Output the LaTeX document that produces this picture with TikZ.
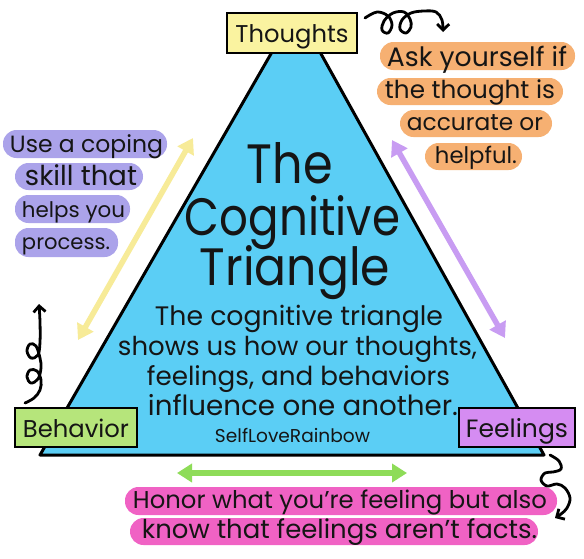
\documentclass[tikz,border=0pt]{standalone}
\usepackage{fontspec}
\setmainfont{Poppins}
\usepackage{graphicx}
\usetikzlibrary{arrows.meta}
\definecolor{triblue}{HTML}{5BCEF5}
\definecolor{thyellow}{HTML}{FAF3A0}
\definecolor{bhgreen}{HTML}{B6E57B}
\definecolor{fepurple}{HTML}{D58CF2}
\definecolor{orpill}{HTML}{F6B072}
\definecolor{lvpill}{HTML}{ABA3EA}
\definecolor{pkpill}{HTML}{F062C4}
\definecolor{yarrow}{HTML}{F7EB98}
\definecolor{parrow}{HTML}{C89CF2}
\definecolor{garrow}{HTML}{8EDC58}
\definecolor{ink}{HTML}{151515}
\newcommand{\fw}[2]{\resizebox{#1}{!}{#2}}
\newcommand{\fwh}[3]{\resizebox{#1}{#2}{#3}}
\begin{document}
\begin{tikzpicture}[x=1pt,y=-1pt,
  pill/.style={fill=#1, draw=none, rounded corners=13.5pt, inner sep=0pt},
  labelbox/.style={fill=#1, draw=black, line width=2pt, inner sep=0pt},
  txt/.style={anchor=base, inner sep=0pt, text=ink},
  dbl/.style={draw=#1, line width=5.5pt, {Triangle[length=15pt,width=18pt]}-{Triangle[length=15pt,width=18pt]}},
  curl/.style={draw=black, line width=2.8pt, line cap=round, line join=round, -{Straight Barb[length=6pt,width=12pt]}}
]
\useasboundingbox (0,0) rectangle (584,558);
\fill[white] (0,0) rectangle (584,558);

% triangle
\coordinate (tl) at (272,52);
\coordinate (tr) at (320,52);
\coordinate (br) at (544,455);
\coordinate (bl) at (40,455);
\filldraw[fill=triblue, draw=black, line width=3pt, line join=round] (tl) -- (tr) -- (br) -- (bl) -- cycle;

% double arrows
\coordinate (ya) at (78,340); \coordinate (yb) at (193,138);
\coordinate (pa) at (392,140); \coordinate (pb) at (505,338);
\coordinate (ga) at (177,473); \coordinate (gb) at (407,473);
\draw[dbl=yarrow] (ya) -- (yb);
\draw[dbl=parrow] (pa) -- (pb);
\draw[dbl=garrow] (ga) -- (gb);

% corner boxes
\node[labelbox=thyellow, minimum width=130pt, minimum height=40pt] (th) at (292,33) {};
\node[txt] (tht) at (292,42) {\fw{113pt}{Thoughts}};
\node[labelbox=bhgreen, minimum width=122pt, minimum height=39pt] (bh) at (76,427.5) {};
\node[txt] (bht) at (76,437) {\fw{106pt}{Behavior}};
\node[labelbox=fepurple, minimum width=116pt, minimum height=39pt] (fe) at (517,427.5) {};
\node[txt] (fet) at (517,437) {\fw{102pt}{Feelings}};

% title
\node[txt] (t1) at (290,183) {\fwh{86pt}{41pt}{The}};
\node[txt] (t2) at (292.5,235) {\fwh{215pt}{40pt}{Cognitive}};
\node[txt] (t3) at (295,285) {\fwh{190pt}{40pt}{Triangle}};

% body
\node[txt] (b1) at (299,325) {\fw{288pt}{The cognitive triangle}};
\node[txt] (b2) at (297.5,355) {\fw{359pt}{shows us how our thoughts,}};
\node[txt] (b3) at (298.5,385) {\fw{303pt}{feelings, and behaviors}};
\node[txt] (b4) at (303,415) {\fw{310pt}{influence one another.}};
\node[txt] (b5) at (292.5,442) {\fw{155pt}{SelfLoveRainbow}};

% orange pills
\node[pill=orpill, minimum width=195pt, minimum height=28pt] (o1) at (477.5,56) {};
\node[txt] at (477,66) {\fw{180pt}{Ask yourself if}};
\node[pill=orpill, minimum width=186pt, minimum height=27pt] (o2) at (470,91.5) {};
\node[txt] at (470,98) {\fw{170pt}{the thought is}};
\node[pill=orpill, minimum width=152pt, minimum height=27pt] (o3) at (476,123.5) {};
\node[txt] at (475,130) {\fw{136pt}{accurate or}};
\node[pill=orpill, minimum width=97pt, minimum height=27pt] (o4) at (473.5,156.5) {};
\node[txt] at (476,163) {\fw{82pt}{helpful.}};

% lavender pills
\node[pill=lvpill, minimum width=164pt, minimum height=28pt] (l1) at (85,144) {};
\node[txt] at (86.5,152) {\fw{153pt}{Use a coping}};
\node[pill=lvpill, minimum width=128pt, minimum height=27pt] (l2) at (79,176.5) {};
\node[txt] at (81,185) {\fw{112pt}{skill that}};
\node[pill=lvpill, minimum width=115pt, minimum height=28pt] (l3) at (72.5,209) {};
\node[txt] at (73.5,217) {\fw{103pt}{helps you}};
\node[pill=lvpill, minimum width=103pt, minimum height=29pt] (l4) at (66.5,242.5) {};
\node[txt] at (66,249) {\fw{88pt}{process.}};

% pink pills
\node[pill=pkpill, minimum width=432pt, minimum height=28pt] (k1) at (341,501) {};
\node[txt] at (340,508) {\fw{414pt}{Honor what you're feeling but also}};
\node[pill=pkpill, minimum width=408pt, minimum height=27pt] (k2) at (334,531.5) {};
\node[txt] at (339.5,538) {\fw{395pt}{know that feelings aren't facts.}};

% curly arrows
\draw[curl] plot[smooth, tension=0.6] coordinates {(365,18) (377,12) (388,16) (392,25) (388,33) (382,30) (384,21) (393,13) (404,12) (410,19) (411,27) (406,33) (400,29) (402,20) (411,13) (424,11) (436,12) (442,20) (443,32)};
\draw[curl] plot[smooth, tension=0.6] coordinates {(25,403) (34,398) (40,390) (41,380) (37,371) (30,370) (27,377) (31,383) (38,379) (41,368) (40,358) (36,346) (30,344) (27,351) (31,358) (38,355) (40,342) (40,322) (39,304)};
\draw[curl] plot[smooth, tension=0.6] coordinates {(550,455) (559,461) (561,469) (553,472) (545,473) (541,480) (547,486) (557,484) (565,488) (570,498) (567,508) (561,514) (555,518)};
\end{tikzpicture}
\end{document}
